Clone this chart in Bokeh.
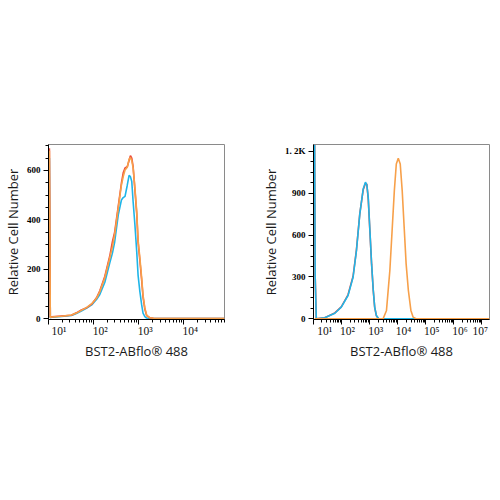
from bokeh.plotting import figure
from bokeh.layouts import row
from bokeh.models import FixedTicker, LinearAxis, Range1d, LinearScale
from bokeh.embed import file_html
from bokeh.resources import INLINE

# ---------------- data (x in decades, i.e. log10 of fluorescence) ----------------
left_log_x = [1.02, 1.04, 1.07, 1.29, 1.51, 1.62, 1.73, 1.85, 1.96, 2.07, 2.14, 2.25,
              2.36, 2.42, 2.47, 2.55, 2.62, 2.66, 2.70, 2.75, 2.79, 2.82, 2.85, 2.88,
              2.92, 2.96, 2.99, 3.03, 3.07, 3.10, 3.14, 3.18, 3.25, 3.33, 3.45, 4.91]
left_blue = [650, 3, 5, 8, 12, 20, 30, 42, 55, 78, 97, 146,
             225, 265, 310, 420, 480, 490, 495, 540, 580, 575, 555, 473,
             379, 271, 176, 109, 55, 22, 8, 2, 0, 0, 0, 0]
left_red = [690, 5, 7, 10, 13, 23, 35, 44, 58, 85, 112, 170,
            252, 311, 350, 455, 548, 590, 610, 615, 640, 660, 650, 615,
            520, 425, 310, 235, 155, 88, 38, 12, 3, 1, 0, 0]
left_orange = [680, 4, 6, 9, 14, 22, 33, 45, 60, 83, 109, 164,
               245, 290, 340, 448, 541, 575, 602, 613, 645, 652, 640, 610,
               529, 433, 318, 245, 164, 95, 43, 14, 3, 1, 0, 0]

right_log_x = [1.04, 1.06, 1.10, 1.40, 1.76, 1.99, 2.23, 2.41, 2.53, 2.65, 2.77, 2.85,
               2.90, 2.95, 3.01, 3.07, 3.13, 3.18, 3.24, 3.32, 3.48, 3.60, 3.72, 3.80,
               3.88, 3.95, 4.02, 4.09, 4.16, 4.23, 4.30, 4.38, 4.47, 4.55, 4.65, 7.27]
right_red = [1250, 300, 0, 7, 42, 86, 172, 305, 495, 755, 925, 970,
             965, 860, 625, 390, 200, 82, 22, 0, 0, 0, 0, 0,
             0, 0, 0, 0, 0, 0, 0, 0, 0, 0, 0, 0]
right_blue = [1250, 300, 0, 7, 40, 84, 167, 298, 489, 752, 931, 980,
              960, 871, 632, 394, 203, 84, 24, 0, 0, 0, 0, 0,
              0, 0, 0, 0, 0, 0, 0, 0, 0, 0, 0, 0]
right_orange = [0, 0, 0, 0, 0, 0, 0, 0, 0, 0, 0, 0,
                0, 0, 0, 0, 0, 0, 0, 0, 0, 60, 346, 632,
                919, 1110, 1152, 1110, 919, 656, 394, 203, 60, 12, 0, 0]

left_decades = [1, 2, 3, 4]
right_decades = [1, 2, 3, 4, 5, 6, 7]
sup = {1: "¹", 2: "²", 3: "³", 4: "⁴", 5: "⁵", 6: "⁶", 7: "⁷"}
left_y_ticks = [0, 200, 400, 600]
left_y_labels = ["0", "200", "400", "600"]
right_y_ticks = [0, 300, 600, 900, 1200]
right_y_labels = ["0", "300", "600", "900", "1. 2K"]

x_title = "BST2-ABflo® 488"
y_title = "Relative Cell Number"

ORANGE = "#F7A04A"
RED = "#EC4B3B"
BLUE = "#1FB5E8"


def panel(log_x, series, x_lo, x_hi, y_lo, y_hi, decades, label_offsets,
          y_ticks, y_labels, mb_left, mb_right):
    p = figure(x_axis_type="log", x_range=(10 ** x_lo, 10 ** x_hi),
               y_range=(y_lo, y_hi), frame_width=176, frame_height=175,
               min_border_left=mb_left, min_border_right=mb_right,
               min_border_top=144, min_border_bottom=150,
               output_backend="svg", toolbar_location=None)
    p.grid.visible = False
    p.outline_line_color = "#8a8a8a"
    p.outline_line_width = 1
    xs = [10 ** v for v in log_x]
    for vals, col in series:
        p.line(xs, vals, line_color=col, line_width=1.6)

    # tick marks axis (labels made invisible)
    ax = p.xaxis[0]
    minor = [m * 10 ** d for d in range(decades[0] - 1, decades[-1] + 1) for m in range(2, 10)]
    ax.ticker = FixedTicker(ticks=[10 ** d for d in decades], minor_ticks=minor)
    ax.major_label_overrides = {10 ** d: " " for d in decades}
    ax.major_label_text_font_size = "1px"
    ax.major_label_text_color = None
    ax.major_label_standoff = 0
    ax.major_tick_in = 0
    ax.major_tick_out = 5
    ax.minor_tick_in = 0
    ax.minor_tick_out = 3
    ax.axis_line_color = "black"

    # labels axis (decade labels, offset like the reference)
    p.extra_x_ranges = {"dec": Range1d(x_lo, x_hi)}
    p.extra_x_scales = {"dec": LinearScale()}
    pos = [d + o for d, o in zip(decades, label_offsets)]
    lab = LinearAxis(x_range_name="dec", ticker=FixedTicker(ticks=pos),
                     major_label_overrides={q: "10" + sup[d] for q, d in zip(pos, decades)},
                     axis_line_color=None, major_tick_line_color=None,
                     minor_tick_line_color=None, major_label_standoff=0,
                     major_tick_in=0, major_tick_out=0,
                     major_label_text_font="Liberation Serif",
                     major_label_text_font_size="11.5px",
                     major_label_text_color="#111111",
                     axis_label=x_title, axis_label_standoff=2,
                     axis_label_text_font="Open Sans",
                     axis_label_text_font_size="13px",
                     axis_label_text_font_style="normal",
                     axis_label_text_color="#1a1a1a")
    p.add_layout(lab, "below")

    ya = p.yaxis[0]
    step = (y_ticks[1] - y_ticks[0]) / 4
    yminor = [y_ticks[0] + step * i for i in range(0, 4 * len(y_ticks) + 1)]
    ya.ticker = FixedTicker(ticks=y_ticks, minor_ticks=yminor)
    ya.major_label_overrides = {t: s for t, s in zip(y_ticks, y_labels)}
    ya.major_label_text_font = "Liberation Serif"
    ya.major_label_text_font_style = "bold"
    ya.major_label_text_font_size = "9px"
    ya.major_label_text_color = "black"
    ya.major_label_standoff = 3
    ya.major_tick_in = 0
    ya.major_tick_out = 5
    ya.minor_tick_in = 0
    ya.minor_tick_out = 3
    ya.axis_line_color = "black"
    ya.axis_label = y_title
    ya.axis_label_standoff = 2
    ya.axis_label_text_font = "Open Sans"
    ya.axis_label_text_font_size = "13px"
    ya.axis_label_text_font_style = "normal"
    ya.axis_label_text_color = "#1a1a1a"
    return p


p1 = panel(left_log_x, [(left_blue, BLUE), (left_red, RED), (left_orange, ORANGE)],
           1.0, 4.91, -4, 705, left_decades, [0.23, 0.15, 0.15, 0.15],
           left_y_ticks, left_y_labels, 39, 27)
p2 = panel(right_log_x, [(right_red, RED), (right_blue, BLUE), (right_orange, ORANGE)],
           1.0, 7.27, -5, 1250, right_decades, [0.40, 0.21, 0.22, 0.21, 0.21, 0.22, -0.06],
           right_y_ticks, right_y_labels, 62, 2)

layout = row(p1, p2)
open("out.html", "w").write(file_html(layout, INLINE))
